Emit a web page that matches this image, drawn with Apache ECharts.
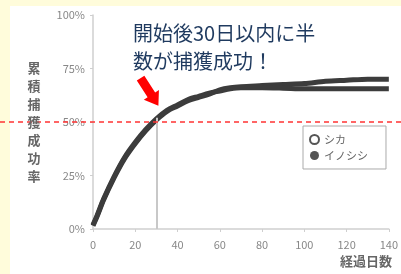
<!DOCTYPE html>
<html><head><meta charset="utf-8">
<script src="https://cdn.jsdelivr.net/npm/echarts@6/dist/echarts.min.js"></script>
<style>html,body{margin:0;padding:0;background:#FFFCDB;}#c{width:401px;height:274px;}</style>
</head><body><div id="c"></div>
<script>
const days = [0, 2, 5, 10, 15, 20, 25, 30, 35, 40, 45, 50, 55, 60, 65, 70, 80, 90, 100, 110, 120, 130, 140];
const shika = [0.015, 0.06, 0.135, 0.24, 0.33, 0.40, 0.46, 0.51, 0.55, 0.575, 0.60, 0.615, 0.63, 0.65, 0.66, 0.665, 0.67, 0.675, 0.68, 0.69, 0.695, 0.70, 0.70];
const inoshishi = [0.02, 0.065, 0.14, 0.245, 0.335, 0.405, 0.465, 0.515, 0.555, 0.58, 0.605, 0.62, 0.635, 0.645, 0.655, 0.66, 0.66, 0.658, 0.655, 0.655, 0.655, 0.655, 0.655];
const yTicks = ['0%', '25%', '50%', '75%', '100%'];
const xTicks = ['0', '20', '40', '60', '80', '100', '120', '140'];
const halfDay = 30, halfLevel = 0.5;
const seriesNames = ['シカ', 'イノシシ'];
const annotation = '開始後30日以内に半\n数が捕獲成功！';
const yName = '累積捕獲成功率';
const xName = '経過日数';

const chart = echarts.init(document.getElementById('c'), null, {renderer: 'canvas'});
const font = '"Noto Sans CJK JP", "Noto Sans", sans-serif';
const option = {
  backgroundColor: 'transparent',
  animation: false,
  grid: {left: 93, right: 11, top: 15, bottom: 45},
  xAxis: {
    type: 'value', min: 0, max: 140, interval: 20,
    axisLine: {show: true, lineStyle: {color: '#cfcfcf', width: 1.5}},
    axisTick: {show: true, length: 3, lineStyle: {color: '#cfcfcf'}},
    splitLine: {show: false},
    axisLabel: {color: '#888', fontSize: 11, fontFamily: font, margin: 10,
      formatter: v => xTicks[Math.round(v / 20)]}
  },
  yAxis: {
    type: 'value', min: 0, max: 1, interval: 0.25,
    axisLine: {show: true, lineStyle: {color: '#cfcfcf', width: 1.5}},
    axisTick: {show: true, length: 3, lineStyle: {color: '#cfcfcf'}},
    splitLine: {show: false},
    axisLabel: {color: '#888', fontSize: 11, fontFamily: font, margin: 8,
      formatter: v => yTicks[Math.round(v / 0.25)]}
  },
  legend: {
    orient: 'vertical', left: 303, top: 126,
    data: [{name: seriesNames[0], icon: 'emptyCircle'}, {name: seriesNames[1], icon: 'circle'}],
    itemWidth: 9, itemHeight: 9, itemGap: 5,
    padding: [8, 18, 8, 6],
    borderColor: '#aaa', borderWidth: 1,
    textStyle: {color: '#666', fontSize: 11, fontFamily: font},
    inactiveColor: '#666'
  },
  series: [
    {
      name: seriesNames[0], type: 'line', smooth: 0.3, showSymbol: false,
      data: days.map((d, i) => [d, shika[i]]),
      lineStyle: {color: '#3c3c3c', width: 5},
      itemStyle: {color: '#555', borderColor: '#555', borderWidth: 1.5},
      markLine: {
        silent: true, symbol: 'none', label: {show: false},
        lineStyle: {color: '#c8c8c8', width: 2, type: 'solid'},
        data: [[{coord: [halfDay, 0]}, {coord: [halfDay, 0.52]}]]
      }
    },
    {
      name: seriesNames[1], type: 'line', smooth: 0.3, showSymbol: false,
      data: days.map((d, i) => [d, inoshishi[i]]),
      lineStyle: {color: '#3c3c3c', width: 5},
      itemStyle: {color: '#555'}
    }
  ]
};
chart.setOption(option);

const y50 = chart.convertToPixel({yAxisIndex: 0}, halfLevel);
const p30 = chart.convertToPixel({gridIndex: 0}, [halfDay, 0.515]);
// arrow pointing to the 50% crossing
const tip = [p30[0] + 2, p30[1] - 13];
const dir = [0.54, 0.84];
const perp = [0.84, -0.54];
const L = 33, headL = 13, shaftW = 4.5, headW = 9;
const tail = [tip[0] - dir[0] * L, tip[1] - dir[1] * L];
const neck = [tip[0] - dir[0] * headL, tip[1] - dir[1] * headL];
const pt = (b, s) => [b[0] + perp[0] * s, b[1] + perp[1] * s];
const arrowPts = [pt(tail, shaftW), pt(neck, shaftW), pt(neck, headW), tip, pt(neck, -headW), pt(neck, -shaftW), pt(tail, -shaftW)];

chart.setOption({
  graphic: [
    {type: 'rect', z: -10, silent: true, shape: {x: 10, y: 6, width: 391, height: 268}, style: {fill: '#ffffff'}},
    {type: 'line', z: 100, silent: true, shape: {x1: 0, y1: y50, x2: 401, y2: y50},
      style: {stroke: '#FF3333', lineWidth: 1.3, lineDash: [5, 4]}},
    {type: 'polygon', z: 100, silent: true, shape: {points: arrowPts}, style: {fill: '#FF0000'}},
    {type: 'text', z: 100, left: 133, top: 19, silent: true,
      style: {text: annotation, fill: '#1F3A5F', fontSize: 20, lineHeight: 28, fontFamily: font}},
    {type: 'text', z: 100, silent: true, x: 34, y: 59,
      style: {text: yName.split('').join('\n'), fill: '#666', fontSize: 13, lineHeight: 18, fontWeight: 'bold', align: 'center', fontFamily: font}},
    {type: 'text', z: 100, silent: true, x: 392, y: 255,
      style: {text: xName, fill: '#666', fontSize: 13, fontWeight: 'bold', align: 'right', fontFamily: font}}
  ]
});
</script></body></html>
